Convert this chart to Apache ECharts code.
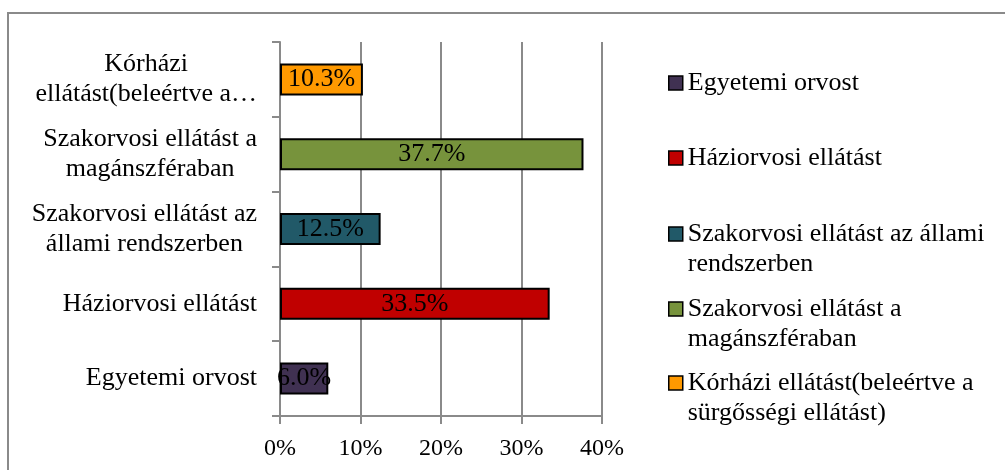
<!DOCTYPE html>
<html>
<head>
<meta charset="utf-8">
<script src="https://cdn.jsdelivr.net/npm/echarts@6/dist/echarts.min.js"></script>
<style>
html,body{margin:0;padding:0;background:#fff;}
#chart{width:1005px;height:470px;}
</style>
</head>
<body>
<div id="chart"></div>
<script>
// adatok
var categories = ['Egyetemi orvost', 'Háziorvosi ellátást', 'Szakorvosi ellátást az állami rendszerben', 'Szakorvosi ellátást a magánszféraban', 'Kórházi ellátást(beleértve a sürgősségi ellátást)'];
var axisNames = ['Egyetemi orvost', 'Háziorvosi ellátást', 'Szakorvosi ellátást az\nállami rendszerben', 'Szakorvosi ellátást a\nmagánszféraban', 'Kórházi\nellátást(beleértve a…'];
var legendNames = ['Egyetemi orvost', 'Háziorvosi ellátást', 'Szakorvosi ellátást az állami\nrendszerben', 'Szakorvosi ellátást a\nmagánszféraban', 'Kórházi ellátást(beleértve a\nsürgősségi ellátást)'];
var shares = [6.0, 33.5, 12.5, 37.7, 10.3];
var colors = ['#403152', '#C00000', '#215968', '#77933C', '#FF9900'];

(function(){

var myChart = echarts.init(document.getElementById('chart'));
var font = 'Liberation Serif, Times New Roman, serif';
var gray = '#8a8a8a';

var series = categories.map(function(name, i){
    return {
        name: name,
        type: 'bar',
        barWidth: 32,
        barGap: '-100%',
        itemStyle: { color: colors[i], borderColor: '#000', borderWidth: 2 },
        label: {
            show: true,
            position: 'inside',
            color: '#000',
            fontFamily: font,
            fontSize: 26,
            formatter: function(p){ return p.value.toFixed(1) + '%'; }
        },
        data: shares.map(function(v, j){ return j === i ? v : '-'; })
    };
});

// egy jelmagyarazat elemenkent, hogy a sorok ugy alljanak mint az eredetin
var legendTops = [68, 143, 189, 264, 338];
var legends = categories.map(function(name, i){
    return {
        data: [name],
        left: 668,
        top: legendTops[i],
        padding: 0,
        icon: 'rect',
        itemWidth: 14,
        itemHeight: 14,
        itemStyle: { borderColor: '#000', borderWidth: 1.5 },
        textStyle: { fontFamily: font, fontSize: 26, lineHeight: 30, color: '#000' },
        formatter: function(){
            var t = legendNames[i];
            return t.indexOf('\n') >= 0 ? '\n' + t : t;
        }
    };
});

option = {
    animation: false,
    grid: { left: 280, right: 403, top: 42, bottom: 54 },
    legend: legends,
    xAxis: {
        type: 'value',
        min: 0,
        max: 40,
        interval: 10,
        axisLine: { show: true, lineStyle: { color: gray, width: 2 } },
        axisTick: { show: true, length: 8, lineStyle: { color: gray, width: 2 } },
        splitLine: { show: true, lineStyle: { color: gray, width: 2 } },
        axisLabel: { formatter: '{value}%', color: '#000', fontFamily: font, fontSize: 24, margin: 21 }
    },
    yAxis: {
        type: 'category',
        data: categories,
        axisLine: { show: true, lineStyle: { color: gray, width: 2 } },
        axisTick: { show: true, length: 8, lineStyle: { color: gray, width: 2 } },
        axisLabel: {
            margin: 23,
            align: 'right',
            formatter: function(v, idx){
                return axisNames[idx].split('\n').map(function(s){ return '{c|' + s + '}'; }).join('\n');
            },
            rich: {
                c: { align: 'center', color: '#000', fontFamily: font, fontSize: 26, lineHeight: 30 }
            }
        }
    },
    graphic: [{
        type: 'rect',
        silent: true,
        shape: { x: 8, y: 13, width: 1000, height: 500 },
        style: { fill: 'none', stroke: gray, lineWidth: 2 }
    }],
    series: series
};

myChart.setOption(option);
})();
</script>
</body>
</html>
